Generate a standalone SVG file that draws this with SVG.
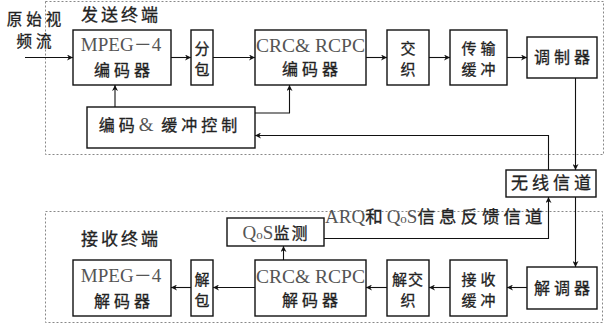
<svg xmlns="http://www.w3.org/2000/svg" width="605" height="328" viewBox="0 0 605 328">
<defs>
<marker id="ah" viewBox="0 0 10 10" refX="10" refY="5" markerWidth="8" markerHeight="6" markerUnits="userSpaceOnUse" orient="auto"><path d="M0,0 L10,5 L0,10 L3,5 Z" fill="#111"/></marker>
<style>
.frame{fill:none;stroke:#888;stroke-width:1;stroke-dasharray:2,2}
.box{fill:#fff;stroke:#111;stroke-width:1.4}
.ar{fill:none;stroke:#111;stroke-width:1.1;marker-end:url(#ah)}
.cj{font-family:"Noto Sans CJK SC","Noto Sans",sans-serif;font-size:16px;fill:#222;stroke:#222;stroke-width:0.3;letter-spacing:4px}
.st{font-size:15px;letter-spacing:0}
.se{font-family:"Liberation Serif",serif;fill:#555;stroke:none;letter-spacing:0}
.dash{font-family:"Noto Sans CJK SC",sans-serif;fill:#555;stroke:none}
.lb{font-family:"Noto Sans CJK SC","Noto Sans",sans-serif;font-size:17px;fill:#222;stroke:#222;stroke-width:0.3;letter-spacing:3px}
</style>
</defs>
<rect class="frame" x="45.5" y="1.5" width="558" height="153"/>
<rect class="frame" x="45.5" y="211.5" width="557" height="111"/>
<g id="lbl-src"><text class="lb" x="36" y="25" text-anchor="middle" style="font-size:15.5px;letter-spacing:4px">原始视</text><text class="lb" x="36" y="46.5" text-anchor="middle" style="font-size:15.5px;letter-spacing:4px">频流</text></g>
<g id="lbl-tx"><text class="lb" x="81" y="21">发送终端</text></g>
<g id="lbl-rx"><text class="lb" x="81" y="245">接收终端</text></g>
<g id="lbl-fb"><text class="lb" x="325" y="223" style="font-size:17.5px;letter-spacing:4px"><tspan class="se" font-size="19" style="letter-spacing:0">ARQ</tspan>和<tspan class="se" font-size="19">Q</tspan><tspan class="se" font-size="13">o</tspan><tspan class="se" font-size="19">S</tspan>信息反馈信道</text></g>
<g id="connectors">
<path class="ar" d="M25,57.5 H73"/>
<path class="ar" d="M171,57.5 H191"/>
<path class="ar" d="M213,57.5 H255"/>
<path class="ar" d="M366,57.5 H387"/>
<path class="ar" d="M429,57.5 H450"/>
<path class="ar" d="M507,57.5 H527"/>
<path class="ar" d="M115,107 V85"/>
<path class="ar" d="M255,113 H289.5 V85"/>
<path class="ar" d="M548.5,170 V135.5 H255"/>
<path class="ar" d="M575.5,78 V170"/>
<path class="ar" d="M575.5,197 V267"/>
<path class="ar" d="M324,238.5 H548.5 V197"/>
<path class="ar" d="M283.5,260 V246"/>
<path class="ar" d="M527,287.5 H507"/>
<path class="ar" d="M450,287.5 H429"/>
<path class="ar" d="M387,287.5 H366"/>
<path class="ar" d="M255,287.5 H213"/>
<path class="ar" d="M191,287.5 H171"/>
</g>
<g id="mpeg-enc"><rect class="box" x="73" y="30" width="98" height="55"/><text class="se" x="121" y="51" font-size="19" text-anchor="middle">MPEG<tspan class="dash" font-size="18">－</tspan>4</text><text class="cj" x="124" y="75.5" text-anchor="middle">编码器</text></g>
<g id="pack"><rect class="box" x="191" y="30" width="22" height="55"/><text class="cj st" x="202" y="54" text-anchor="middle">分</text><text class="cj st" x="202" y="75" text-anchor="middle">包</text></g>
<g id="crc-enc"><rect class="box" x="255" y="30" width="111" height="55"/><text class="se" x="310.5" y="52" font-size="19.5" text-anchor="middle">CRC&amp; RCPC</text><text class="cj" x="312" y="75" text-anchor="middle">编码器</text></g>
<g id="interleave"><rect class="box" x="387" y="30" width="42" height="55"/><text class="cj st" x="408" y="54" text-anchor="middle">交</text><text class="cj st" x="408" y="75" text-anchor="middle">织</text></g>
<g id="tx-buf"><rect class="box" x="450" y="30" width="57" height="55"/><text class="cj st" x="480.5" y="54" text-anchor="middle" style="letter-spacing:4px">传输</text><text class="cj st" x="480.5" y="75" text-anchor="middle" style="letter-spacing:4px">缓冲</text></g>
<g id="modulator"><rect class="box" x="527" y="37" width="70" height="41"/><text class="cj" x="564" y="63" text-anchor="middle">调制器</text></g>
<g id="ctrl"><rect class="box" x="87" y="107" width="168" height="41"/><text class="cj" x="170" y="131" text-anchor="middle" style="letter-spacing:4px">编码<tspan class="se" font-size="19">&amp;</tspan> 缓冲控制</text></g>
<g id="channel"><rect class="box" x="506" y="170" width="90" height="27"/><text class="lb" x="553" y="189" text-anchor="middle" style="letter-spacing:4px">无线信道</text></g>
<g id="qos"><rect class="box" x="227" y="218" width="97" height="28"/><text class="cj" x="276" y="239" text-anchor="middle" style="letter-spacing:2px"><tspan class="se" font-size="19" style="letter-spacing:0">Q</tspan><tspan class="se" font-size="13" style="letter-spacing:0">o</tspan><tspan class="se" font-size="19">S</tspan>监测</text></g>
<g id="demod"><rect class="box" x="527" y="267" width="70" height="42"/><text class="cj" x="564" y="294" text-anchor="middle">解调器</text></g>
<g id="rx-buf"><rect class="box" x="450" y="260" width="57" height="56"/><text class="cj st" x="480.5" y="285" text-anchor="middle" style="letter-spacing:4px">接收</text><text class="cj st" x="480.5" y="306" text-anchor="middle" style="letter-spacing:4px">缓冲</text></g>
<g id="deinterleave"><rect class="box" x="387" y="260" width="42" height="56"/><text class="cj st" x="408" y="285" text-anchor="middle" style="letter-spacing:1px">解交</text><text class="cj st" x="408" y="306" text-anchor="middle">织</text></g>
<g id="crc-dec"><rect class="box" x="255" y="260" width="111" height="56"/><text class="se" x="310.5" y="283" font-size="19.5" text-anchor="middle">CRC&amp; RCPC</text><text class="cj" x="312" y="306" text-anchor="middle">解码器</text></g>
<g id="unpack"><rect class="box" x="191" y="260" width="22" height="56"/><text class="cj st" x="202" y="285" text-anchor="middle">解</text><text class="cj st" x="202" y="306" text-anchor="middle">包</text></g>
<g id="mpeg-dec"><rect class="box" x="73" y="260" width="98" height="56"/><text class="se" x="121" y="282" font-size="19" text-anchor="middle">MPEG<tspan class="dash" font-size="18">－</tspan>4</text><text class="cj" x="124" y="306.5" text-anchor="middle">解码器</text></g>
</svg>
